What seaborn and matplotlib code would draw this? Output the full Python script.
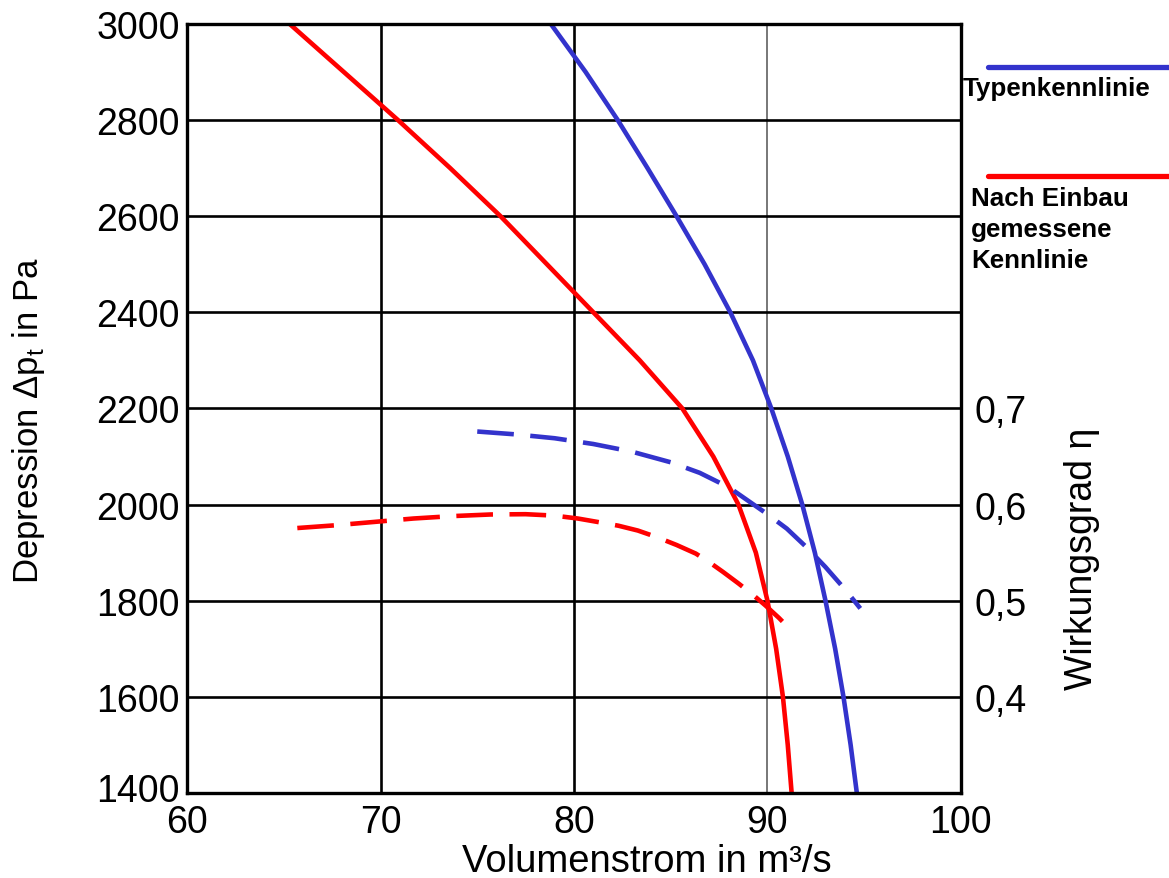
import matplotlib
matplotlib.use("Agg")
import matplotlib.pyplot as plt
from matplotlib.lines import Line2D
from matplotlib.ticker import FixedLocator, FixedFormatter
from matplotlib.transforms import ScaledTranslation
import seaborn as sns

# Kennlinien (Volumenstrom in m3/s, Depression in Pa)
typ_q = [78.8, 80.6, 82.26, 83.8, 85.3, 86.75, 88.08, 89.25, 90.2, 91.05,
         91.8, 92.45, 93.0, 93.5, 93.93, 94.3, 94.62]
typ_dp = [3000, 2900, 2800, 2700, 2600, 2500, 2400, 2300, 2200, 2100,
          2000, 1900, 1800, 1700, 1600, 1500, 1400]

mess_q = [65.3, 68.1, 70.9, 73.6, 76.2, 78.6, 81.0, 83.4, 85.6, 87.2,
          88.5, 89.4, 90.0, 90.45, 90.8, 91.05, 91.25]
mess_dp = [3000, 2900, 2800, 2700, 2600, 2500, 2400, 2300, 2200, 2100,
           2000, 1900, 1800, 1700, 1600, 1500, 1400]

# Wirkungsgrad
typ_eta_q = [75.0, 77.0, 79.0, 81.0, 83.0, 85.0, 86.5, 88.0, 89.0, 90.0,
             91.0, 92.0, 93.0, 94.0, 94.8]
typ_eta = [0.676, 0.673, 0.669, 0.663, 0.655, 0.644, 0.633, 0.618, 0.604,
           0.590, 0.575, 0.556, 0.535, 0.512, 0.492]

mess_eta_q = [65.7, 67.7, 69.7, 71.7, 73.7, 75.7, 77.5, 79.0, 80.2, 81.2,
              82.3, 83.3, 84.3, 85.3, 86.3, 87.0, 87.7, 88.5, 89.2, 89.9,
              90.6, 91.28]
mess_eta = [0.5756, 0.5785, 0.582, 0.5855, 0.588, 0.5897, 0.590, 0.5885,
            0.5855, 0.582, 0.578, 0.573, 0.566, 0.558, 0.549, 0.540, 0.530,
            0.518, 0.507, 0.495, 0.482, 0.468]

x_ticks = [60, 70, 80, 90, 100]
y_ticks = [1400, 1600, 1800, 2000, 2200, 2400, 2600, 2800, 3000]
eta_ticks = [0.4, 0.5, 0.6, 0.7]
eta_labels = ["0,4", "0,5", "0,6", "0,7"]

blue = "#3333cc"
red = "#ff0000"

sns.set_style("white")
plt.rcParams["font.family"] = ["Liberation Sans", "DejaVu Sans"]
plt.rcParams["mathtext.fontset"] = "custom"
plt.rcParams["mathtext.rm"] = "Liberation Sans"
plt.rcParams["text.color"] = "black"
plt.rcParams["axes.labelcolor"] = "black"

fig = plt.figure(figsize=(11.69, 8.79), dpi=100)
ax = fig.add_axes([0.160, 0.0967, 0.662, 0.875])

lw = 3.3
sns.lineplot(x=typ_q, y=typ_dp, ax=ax, color=blue, lw=lw, sort=False,
             estimator=None)
sns.lineplot(x=mess_q, y=mess_dp, ax=ax, color=red, lw=lw, sort=False,
             estimator=None)

ax.set_xlim(60, 100)
ax.set_ylim(1400, 3000)
ax.xaxis.set_major_locator(FixedLocator(x_ticks))
ax.yaxis.set_major_locator(FixedLocator(y_ticks))
ax.tick_params(axis="both", length=0, labelsize=27, colors="black")
ax.tick_params(axis="y", pad=5)
ax.tick_params(axis="x", pad=8)
ax.grid(True, color="black", lw=1.9)
ax.set_axisbelow(True)
ax.get_xgridlines()[3].set(color="#606060", lw=1.2)
for s in ax.spines.values():
    s.set_color("black")
    s.set_linewidth(2.4)

# "1400" etwas anheben, damit es "60" nicht beruehrt
lab = ax.yaxis.get_major_ticks()[0].label1
lab.set_transform(lab.get_transform()
                  + ScaledTranslation(0, 0.06, fig.dpi_scale_trans))

ax.set_xlabel("Volumenstrom in m³/s", fontsize=27.5)
ax.xaxis.set_label_coords(0.594, -0.0650)
ax.set_ylabel("Depression Δp$_\\mathrm{t}$ in Pa", fontsize=25, va="center")
ax.yaxis.set_label_coords(-0.205, 0.486)

# Wirkungsgrad-Achse
ax2 = ax.twinx()
sns.lineplot(x=typ_eta_q, y=typ_eta, ax=ax2, color=blue, lw=lw, sort=False,
             estimator=None, linestyle=(0, (8, 3.6)))
sns.lineplot(x=mess_eta_q, y=mess_eta, ax=ax2, color=red, lw=lw, sort=False,
             estimator=None, linestyle=(0, (8, 3.6)))
ax2.set_ylim(0.3, 1.1)
ax2.set_xlim(60, 100)
ax2.yaxis.set_major_locator(FixedLocator(eta_ticks))
ax2.yaxis.set_major_formatter(FixedFormatter(eta_labels))
ax2.tick_params(axis="y", length=0, labelsize=27, pad=10, colors="black")
ax2.grid(False)
for s in ax2.spines.values():
    s.set_visible(False)
ax2.set_ylabel("Wirkungsgrad η", fontsize=27, rotation=90, va="center")
ax2.yaxis.set_label_coords(1.156, 0.306)

# Legende rechts
fig.add_artist(Line2D([988 / 1169, 1.0], [1 - 68 / 879] * 2,
                      transform=fig.transFigure, color=blue, lw=3.8))
fig.add_artist(Line2D([988 / 1169, 1.0], [1 - 177 / 879] * 2,
                      transform=fig.transFigure, color=red, lw=3.8))
fig.text(963 / 1169, 1 - 77 / 879, "Typenkennlinie", fontsize=18.7,
         fontweight="bold", va="top", ha="left")
fig.text(971 / 1169, 1 - 187 / 879, "Nach Einbau\ngemessene\nKennlinie",
         fontsize=18.7, fontweight="bold", va="top", ha="left",
         linespacing=1.38)

fig.savefig("out.png", dpi=100)
